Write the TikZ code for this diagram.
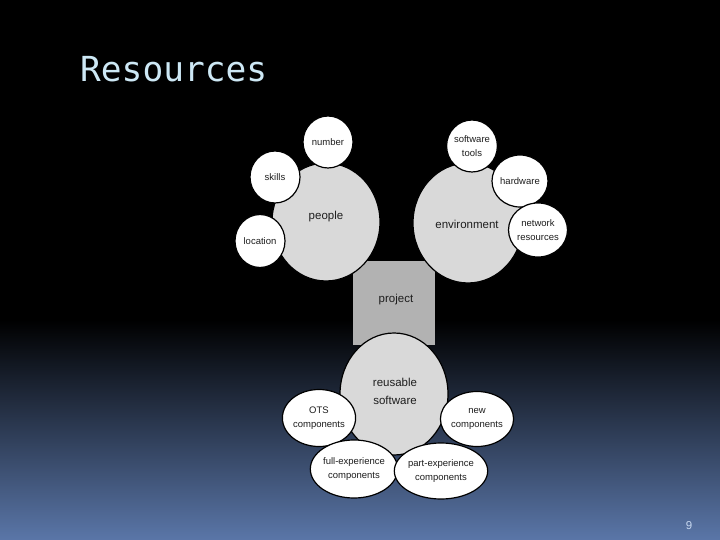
\documentclass[tikz,border=0pt]{standalone}
\usepackage{fontspec}
\setmainfont{Liberation Sans}
\newfontfamily\titlefont{DejaVu Sans Mono}
\usetikzlibrary{shapes.geometric}
\definecolor{bgblue}{RGB}{90,118,168}
\definecolor{titlecol}{RGB}{205,232,245}
\definecolor{biggray}{RGB}{217,217,217}
\definecolor{projgray}{RGB}{178,178,178}
\definecolor{labelcol}{RGB}{30,30,30}
\tikzset{
  bubble/.style={ellipse, draw=black, line width=1.2pt, inner sep=0pt, align=center, text=labelcol},
  bigbub/.style={bubble, fill=biggray, font=\fontsize{11.5}{18}\selectfont},
  smallbub/.style={bubble, fill=white, font=\fontsize{9.5}{14}\selectfont},
  biglabel/.style={text=labelcol, font=\fontsize{11.5}{18}\selectfont, inner sep=0pt, align=center},
}
\begin{document}
\begin{tikzpicture}[x=1pt,y=-1pt]
\useasboundingbox (0,0) rectangle (720,540);
\fill[black] (0,0) rectangle (720,321);
\fill[top color=black, bottom color=bgblue] (0,320) rectangle (720,540);
\node[anchor=base west, text=titlecol, font=\titlefont\fontsize{34.5}{36}\selectfont, inner sep=0pt] (title) at (80,82) {Resources};
\node[anchor=base, text={rgb,255:red,200;green,216;blue,240}, font=\fontsize{11.5}{12}\selectfont, inner sep=0pt] (pagenum) at (689,529) {9};
% project rectangle
\node[fill=projgray, minimum width=82pt, minimum height=84pt, inner sep=0pt, anchor=center] (project) at (394,303) {};
\node[biglabel] (projlabel) at (396,300) {project};
% big circles
\node[bigbub, minimum width=108pt, minimum height=118pt] (people) at (326,222) {};
\node[biglabel] (peoplelabel) at (326,217) {people};
\node[bigbub, minimum width=110pt, minimum height=120pt] (env) at (468,223) {};
\node[biglabel] (envlabel) at (467,224) {environment};
\node[bigbub, minimum width=108pt, minimum height=122pt] (reuse) at (394,394) {};
\node[biglabel] (reuselabel) at (395,391) {reusable\\software};
% small circles
\node[smallbub, minimum width=50pt, minimum height=52pt] (number) at (328,142) {number};
\node[smallbub, minimum width=50pt, minimum height=52pt] (skills) at (275,177) {skills};
\node[smallbub, minimum width=50pt, minimum height=53pt] (location) at (260,241) {location};
\node[smallbub, minimum width=50pt, minimum height=52pt] (tools) at (472,146) {software\\tools};
\node[smallbub, minimum width=50pt, minimum height=52pt] (hardware) at (520,181) {hardware};
\node[smallbub, minimum width=49pt, minimum height=54pt] (network) at (538,230) {network\\resources};
\node[smallbub, minimum width=68pt, minimum height=57pt] (ots) at (319,418) {OTS\\components};
\node[smallbub, minimum width=69pt, minimum height=55pt] (new) at (477,419) {new\\components};
\node[smallbub, minimum width=78pt, minimum height=58pt] (full) at (354,469) {full-experience\\components};
\node[smallbub, minimum width=78pt, minimum height=56pt] (part) at (441,471) {part-experience\\components};
\end{tikzpicture}
\end{document}
